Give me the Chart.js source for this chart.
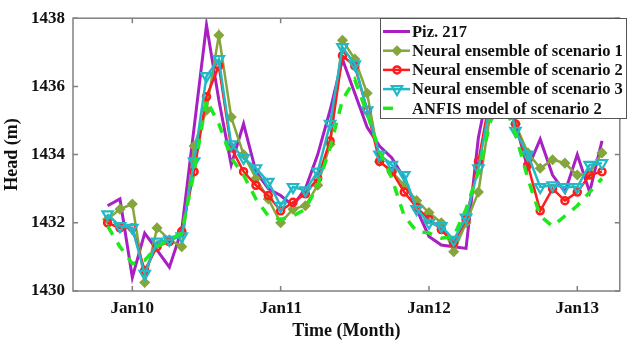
<!DOCTYPE html>
<html>
<head>
<meta charset="utf-8">
<script src="https://cdn.jsdelivr.net/npm/chart.js@4.4.1/dist/chart.umd.min.js"></script>
<style>
    html, body { margin: 0; padding: 0; background: #fff; }
    #wrap { width: 628px; height: 342px; }
</style>
</head>
<body>
<div id="wrap"><canvas id="chart" width="628" height="342"></canvas></div>
<script>
/* ================= DATA ================= */
// months counted from Jan 2010 (0 = Jan10)
const months = [-2, -1, 0, 1, 2, 3, 4, 5, 6, 7, 8, 9, 10, 11, 12, 13, 14, 15, 16, 17, 18,
    19, 20, 21, 22, 23, 24, 25, 26, 27, 28, 29, 30, 31, 32, 33, 34, 35, 36, 37, 38];
const xTicks = [0, 12, 24, 36];
const xTickLabels = ["Jan10", "Jan11", "Jan12", "Jan13"];
const yTicks = [1430, 1432, 1434, 1436, 1438];

const piz217 = [1432.5, 1432.7, 1430.4, 1431.7, 1431.2, 1430.7, 1431.8, 1434.8, 1437.8, 1435.6,
    1433.7, 1434.9, 1433.5, 1433.0, 1432.8, 1432.5, 1433.0, 1434.0, 1435.3, 1436.8, 1435.8,
    1434.8, 1434.25, 1433.9, 1433.3, 1432.4, 1431.6, 1431.35, 1431.3, 1431.25, 1434.5, 1436.3,
    1436.0, 1434.9, 1433.6, 1434.45, 1433.4, 1432.9, 1434.0, 1432.9, 1434.4];
const scenario1 = [1432.1, 1432.4, 1432.55, 1430.25, 1431.85, 1431.5, 1431.3, 1434.25, 1435.3, 1437.5,
    1435.1, 1434.0, 1433.3, 1432.7, 1432.0, 1432.4, 1432.5, 1433.1, 1434.3, 1437.35, 1436.8,
    1435.8, 1433.8, 1433.5, 1433.1, 1432.65, 1432.3, 1432.0, 1431.15, 1432.0, 1432.9, 1435.3,
    1436.2, 1434.9, 1434.05, 1433.6, 1433.85, 1433.75, 1433.4, 1433.45, 1434.05];
const scenario2 = [1432.0, 1431.85, 1431.85, 1430.6, 1431.3, 1431.45, 1431.75, 1433.5, 1435.7, 1436.6,
    1434.2, 1433.5, 1433.1, 1432.8, 1432.35, 1432.6, 1432.85, 1433.3, 1434.4, 1436.9, 1436.6,
    1435.3, 1433.8, 1433.5, 1432.9, 1432.45, 1432.1, 1431.8, 1431.4, 1432.1, 1433.8, 1435.8,
    1436.4, 1434.9, 1433.7, 1432.35, 1433.0, 1432.65, 1432.9, 1433.4, 1433.5];
const scenario3 = [1432.25, 1431.9, 1431.85, 1430.5, 1431.45, 1431.5, 1431.6, 1433.8, 1436.3, 1436.8,
    1434.3, 1433.9, 1433.6, 1433.2, 1432.5, 1433.05, 1432.95, 1433.5, 1434.9, 1437.15, 1436.65,
    1435.3, 1434.0, 1433.7, 1433.4, 1432.4, 1432.0, 1431.9, 1431.5, 1432.15, 1433.6, 1435.6,
    1436.4, 1434.7, 1434.0, 1433.05, 1433.1, 1433.05, 1433.05, 1433.7, 1433.75];
const anfis2 = [1431.9, 1431.3, 1430.8, 1430.9, 1431.3, 1431.5, 1431.7, 1433.5, 1435.6, 1434.9,
    1433.9, 1433.4, 1432.7, 1432.2, 1432.1, 1432.2, 1432.4, 1433.1, 1434.2, 1435.6, 1436.2,
    1435.2, 1434.1, 1433.3, 1432.2, 1431.75, 1431.7, 1431.55, 1431.6, 1432.4, 1433.5, 1435.0,
    1435.6, 1434.6, 1433.3, 1432.2, 1431.9, 1432.2, 1432.5, 1432.9, 1433.3];

/* ================= HELPERS ================= */
const FONT = "'Liberation Serif', 'Times New Roman', serif";

function toPoints(series) {
    return months.map((m, i) => ({ x: m, y: series[i] }));
}

/* ================= FRAME (MATLAB style box + inner ticks) ================= */
const framePlugin = {
    id: "frame",
    afterDatasetsDraw(chart) {
        const { ctx, chartArea: a, scales } = chart;
        ctx.save();
        ctx.strokeStyle = "#808080";
        ctx.lineWidth = 1.5;
        ctx.strokeRect(a.left, a.top, a.right - a.left, a.bottom - a.top);
        ctx.beginPath();
        xTicks.forEach(v => {
            const px = scales.x.getPixelForValue(v);
            ctx.moveTo(px, a.bottom); ctx.lineTo(px, a.bottom - 5);
            ctx.moveTo(px, a.top); ctx.lineTo(px, a.top + 5);
        });
        yTicks.forEach(v => {
            const py = scales.y.getPixelForValue(v);
            ctx.moveTo(a.left, py); ctx.lineTo(a.left + 5, py);
            ctx.moveTo(a.right, py); ctx.lineTo(a.right - 5, py);
        });
        ctx.stroke();
        ctx.restore();
    }
};

/* ================= LEGEND (boxed, drawn on top) ================= */
const boxLegend = {
    id: "boxLegend",
    afterDraw(chart) {
        const ctx = chart.ctx;
        const box = { x: 380, y: 18, w: 246, h: 100 };
        ctx.save();
        ctx.fillStyle = "#fff";
        ctx.fillRect(box.x, box.y, box.w, box.h);
        ctx.strokeStyle = "#555";
        ctx.lineWidth = 1;
        ctx.strokeRect(box.x + 0.5, box.y + 0.5, box.w, box.h);

        chart.data.datasets.forEach((ds, i) => {
            const y = 31.5 + i * 19.2;
            ctx.strokeStyle = ds.borderColor;
            ctx.lineWidth = ds.borderWidth;
            ctx.setLineDash(ds.borderDash || []);
            ctx.beginPath();
            ctx.moveTo(383, y);
            ctx.lineTo(ds.borderDash ? 394 : 410, y);
            ctx.stroke();
            ctx.setLineDash([]);
            if (ds.pointRadius > 0) {
                ctx.fillStyle = ds.pointBackgroundColor;
                ctx.strokeStyle = ds.pointBorderColor;
                ctx.lineWidth = ds.pointBorderWidth;
                Chart.helpers.drawPoint(ctx, {
                    pointStyle: ds.pointStyle,
                    rotation: ds.pointRotation || 0,
                    radius: ds.pointRadius,
                    borderWidth: ds.pointBorderWidth
                }, 397, y);
            }
            ctx.fillStyle = "#111";
            ctx.font = "bold 16.5px " + FONT;
            ctx.textBaseline = "middle";
            ctx.textAlign = "left";
            ctx.fillText(ds.label, 412, y + 1);
        });
        ctx.restore();
    }
};

/* ================= CHART ================= */
const purple = "#a81fc4";
const olive = "#84a63c";
const red = "#ff1c1c";
const cyan = "#22b9c6";
const green = "#1fe81f";

new Chart(document.getElementById("chart"), {
    type: "line",
    data: {
        datasets: [
            {
                label: "Piz. 217", data: toPoints(piz217),
                borderColor: purple, borderWidth: 3, pointRadius: 0, order: 5
            },
            {
                label: "Neural ensemble of scenario 1", data: toPoints(scenario1),
                borderColor: olive, borderWidth: 2.5, pointStyle: "rectRot", pointRadius: 4.5,
                pointBackgroundColor: olive, pointBorderColor: olive, pointBorderWidth: 1.5, order: 4
            },
            {
                label: "Neural ensemble of scenario 2", data: toPoints(scenario2),
                borderColor: red, borderWidth: 2.5, pointStyle: "circle", pointRadius: 3.5,
                pointBackgroundColor: "rgba(255,255,255,0)", pointBorderColor: red, pointBorderWidth: 2.5, order: 3
            },
            {
                label: "Neural ensemble of scenario 3", data: toPoints(scenario3),
                borderColor: cyan, borderWidth: 2.5, pointStyle: "triangle", pointRotation: 180, pointRadius: 6,
                pointBackgroundColor: "rgba(255,255,255,0)", pointBorderColor: cyan, pointBorderWidth: 2.2, order: 2
            },
            {
                label: "ANFIS model of scenario 2", data: toPoints(anfis2),
                borderColor: green, borderWidth: 3.5, borderDash: [10, 9], pointRadius: 0, order: 1
            }
        ]
    },
    options: {
        responsive: false,
        animation: false,
        devicePixelRatio: 1,
        layout: { padding: { top: 16, right: 2, left: 0, bottom: 0 } },
        plugins: {
            legend: { display: false },
            tooltip: { enabled: false }
        },
        elements: { line: { tension: 0 } },
        scales: {
            x: {
                type: "linear",
                min: -4.8,
                max: 39.44,
                afterFit: s => { s.height = 51; },
                afterBuildTicks: s => { s.ticks = xTicks.map(v => ({ value: v })); },
                grid: { display: false, drawTicks: false },
                border: { display: false },
                ticks: {
                    padding: 7,
                    color: "#111",
                    font: { family: FONT, size: 17, weight: "bold" },
                    callback: v => xTickLabels[xTicks.indexOf(v)]
                },
                title: {
                    display: true,
                    text: "Time (Month)",
                    color: "#111",
                    padding: { top: 0, bottom: 0 },
                    font: { family: FONT, size: 18, weight: "bold" }
                }
            },
            y: {
                min: 1430,
                max: 1438,
                afterFit: s => { s.width = 73; },
                afterBuildTicks: s => { s.ticks = yTicks.map(v => ({ value: v })); },
                grid: { display: false, drawTicks: false },
                border: { display: false },
                ticks: {
                    padding: 8,
                    color: "#111",
                    font: { family: FONT, size: 17, weight: "bold" },
                    callback: v => String(v)
                },
                title: {
                    display: true,
                    text: "Head (m)",
                    color: "#111",
                    padding: { top: 2, bottom: 0 },
                    font: { family: FONT, size: 18, weight: "bold" }
                }
            }
        }
    },
    plugins: [framePlugin, boxLegend]
});
</script>
</body>
</html>
